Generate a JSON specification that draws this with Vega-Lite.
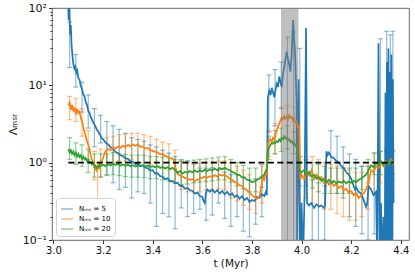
{
"$schema":"https://vega.github.io/schema/vega-lite/v6.json",
"width":357,"height":232,
"autosize":{"type":"none"},
"padding":{"left":52,"top":8,"right":6,"bottom":35},
"config":{"view":{"stroke":"#444","strokeWidth":0.8},"font":"DejaVu Sans","axis":{"domain":false,"grid":false,"tickColor":"#333","labelColor":"#111","titleColor":"#111","labelFont":"DejaVu Sans","titleFont":"DejaVu Sans","titleFontWeight":"normal"},
"legend":{"title":null,"orient":"bottom-left","offset":4,"labelFontSize":7,"symbolType":"stroke","symbolSize":144,"symbolStrokeWidth":1.5,"fillColor":"white","strokeColor":"#d0d0d0","cornerRadius":3,"padding":4,"rowPadding":0,"labelOffset":5}},
"datasets":{
"lines":[
{"s":"5","t":3.058,"v":150},{"s":"5","t":3.061,"v":70},{"s":"5","t":3.064,"v":110},{"s":"5","t":3.067,"v":45},{"s":"5","t":3.07,"v":60},{"s":"5","t":3.073,"v":33},{"s":"5","t":3.076,"v":25},{"s":"5","t":3.08,"v":19},{"s":"5","t":3.084,"v":16.5},{"s":"5","t":3.088,"v":17.5},{"s":"5","t":3.092,"v":14.5},{"s":"5","t":3.096,"v":15.5},{"s":"5","t":3.1,"v":12.5},{"s":"5","t":3.105,"v":11.8},{"s":"5","t":3.11,"v":9.8},{"s":"5","t":3.115,"v":8.9},{"s":"5","t":3.12,"v":7.6},{"s":"5","t":3.125,"v":7.2},{"s":"5","t":3.13,"v":6.1},{"s":"5","t":3.135,"v":5.6},{"s":"5","t":3.14,"v":4.7},{"s":"5","t":3.145,"v":4.4},{"s":"5","t":3.15,"v":3.9},{"s":"5","t":3.155,"v":3.6},{"s":"5","t":3.16,"v":3.3},{"s":"5","t":3.165,"v":3.1},{"s":"5","t":3.17,"v":2.9},{"s":"5","t":3.175,"v":2.65},{"s":"5","t":3.18,"v":2.55},{"s":"5","t":3.185,"v":2.35},{"s":"5","t":3.19,"v":2.25},{"s":"5","t":3.195,"v":2.05},{"s":"5","t":3.2,"v":2.0},{"s":"5","t":3.21,"v":1.82},{"s":"5","t":3.22,"v":1.72},{"s":"5","t":3.23,"v":1.58},{"s":"5","t":3.24,"v":1.5},{"s":"5","t":3.25,"v":1.38},{"s":"5","t":3.26,"v":1.33},{"s":"5","t":3.27,"v":1.24},{"s":"5","t":3.28,"v":1.22},{"s":"5","t":3.29,"v":1.14},{"s":"5","t":3.3,"v":1.12},{"s":"5","t":3.31,"v":1.04},{"s":"5","t":3.32,"v":1.03},{"s":"5","t":3.33,"v":0.96},{"s":"5","t":3.34,"v":0.97},{"s":"5","t":3.35,"v":0.91},{"s":"5","t":3.36,"v":0.92},{"s":"5","t":3.37,"v":0.86},{"s":"5","t":3.38,"v":0.85},{"s":"5","t":3.39,"v":0.79},{"s":"5","t":3.4,"v":0.8},{"s":"5","t":3.41,"v":0.72},{"s":"5","t":3.42,"v":0.73},{"s":"5","t":3.43,"v":0.67},{"s":"5","t":3.44,"v":0.66},{"s":"5","t":3.45,"v":0.61},{"s":"5","t":3.46,"v":0.63},{"s":"5","t":3.47,"v":0.57},{"s":"5","t":3.48,"v":0.58},{"s":"5","t":3.49,"v":0.54},{"s":"5","t":3.5,"v":0.55},{"s":"5","t":3.51,"v":0.5},{"s":"5","t":3.52,"v":0.5},{"s":"5","t":3.53,"v":0.46},{"s":"5","t":3.54,"v":0.47},{"s":"5","t":3.55,"v":0.44},{"s":"5","t":3.56,"v":0.43},{"s":"5","t":3.57,"v":0.4},{"s":"5","t":3.58,"v":0.41},{"s":"5","t":3.59,"v":0.37},{"s":"5","t":3.6,"v":0.36},{"s":"5","t":3.605,"v":0.32},{"s":"5","t":3.61,"v":0.3},{"s":"5","t":3.615,"v":0.41},{"s":"5","t":3.62,"v":0.45},{"s":"5","t":3.63,"v":0.42},{"s":"5","t":3.64,"v":0.45},{"s":"5","t":3.65,"v":0.41},{"s":"5","t":3.66,"v":0.44},{"s":"5","t":3.67,"v":0.4},{"s":"5","t":3.68,"v":0.43},{"s":"5","t":3.69,"v":0.39},{"s":"5","t":3.7,"v":0.42},{"s":"5","t":3.71,"v":0.38},{"s":"5","t":3.72,"v":0.4},{"s":"5","t":3.73,"v":0.36},{"s":"5","t":3.74,"v":0.38},{"s":"5","t":3.75,"v":0.34},{"s":"5","t":3.76,"v":0.37},{"s":"5","t":3.77,"v":0.33},{"s":"5","t":3.78,"v":0.35},{"s":"5","t":3.79,"v":0.31},{"s":"5","t":3.8,"v":0.33},{"s":"5","t":3.81,"v":0.32},{"s":"5","t":3.82,"v":0.36},{"s":"5","t":3.83,"v":0.35},{"s":"5","t":3.84,"v":0.39},{"s":"5","t":3.85,"v":0.37},{"s":"5","t":3.856,"v":0.42},{"s":"5","t":3.86,"v":0.38},{"s":"5","t":3.864,"v":7.0},{"s":"5","t":3.87,"v":8.5},{"s":"5","t":3.875,"v":7.5},{"s":"5","t":3.88,"v":9.3},{"s":"5","t":3.885,"v":8.0},{"s":"5","t":3.89,"v":7.0},{"s":"5","t":3.895,"v":8.8},{"s":"5","t":3.9,"v":10.5},{"s":"5","t":3.905,"v":9.5},{"s":"5","t":3.91,"v":13},{"s":"5","t":3.915,"v":11},{"s":"5","t":3.92,"v":9.5},{"s":"5","t":3.925,"v":14},{"s":"5","t":3.93,"v":17},{"s":"5","t":3.935,"v":22},{"s":"5","t":3.94,"v":27},{"s":"5","t":3.945,"v":22},{"s":"5","t":3.95,"v":19},{"s":"5","t":3.955,"v":15},{"s":"5","t":3.96,"v":25},{"s":"5","t":3.963,"v":45},{"s":"5","t":3.966,"v":70},{"s":"5","t":3.97,"v":40},{"s":"5","t":3.974,"v":25},{"s":"5","t":3.977,"v":12.5},{"s":"5","t":3.98,"v":6},{"s":"5","t":3.982,"v":0.05},{"s":"5","t":3.988,"v":12},{"s":"5","t":3.994,"v":0.05},{"s":"5","t":4.0,"v":0.3},{"s":"5","t":4.006,"v":0.05},{"s":"5","t":4.012,"v":0.4},{"s":"5","t":4.018,"v":55},{"s":"5","t":4.022,"v":0.3},{"s":"5","t":4.03,"v":0.28},{"s":"5","t":4.04,"v":0.3},{"s":"5","t":4.05,"v":0.26},{"s":"5","t":4.06,"v":0.29},{"s":"5","t":4.07,"v":0.27},{"s":"5","t":4.08,"v":0.28},{"s":"5","t":4.09,"v":0.26},{"s":"5","t":4.095,"v":0.28},{"s":"5","t":4.1,"v":1.4},{"s":"5","t":4.105,"v":1.25},{"s":"5","t":4.11,"v":1.35},{"s":"5","t":4.12,"v":1.18},{"s":"5","t":4.13,"v":1.15},{"s":"5","t":4.14,"v":1.05},{"s":"5","t":4.15,"v":1.0},{"s":"5","t":4.16,"v":0.9},{"s":"5","t":4.17,"v":0.85},{"s":"5","t":4.18,"v":0.75},{"s":"5","t":4.19,"v":0.7},{"s":"5","t":4.2,"v":0.62},{"s":"5","t":4.21,"v":0.5},{"s":"5","t":4.215,"v":0.45},{"s":"5","t":4.22,"v":0.48},{"s":"5","t":4.23,"v":0.42},{"s":"5","t":4.24,"v":0.4},{"s":"5","t":4.25,"v":0.33},{"s":"5","t":4.26,"v":0.27},{"s":"5","t":4.265,"v":0.3},{"s":"5","t":4.27,"v":0.5},{"s":"5","t":4.28,"v":0.45},{"s":"5","t":4.29,"v":0.38},{"s":"5","t":4.3,"v":0.42},{"s":"5","t":4.305,"v":0.05},{"s":"5","t":4.31,"v":35},{"s":"5","t":4.315,"v":0.05},{"s":"5","t":4.32,"v":0.3},{"s":"5","t":4.325,"v":0.05},{"s":"5","t":4.33,"v":0.2},{"s":"5","t":4.335,"v":0.05},{"s":"5","t":4.338,"v":8},{"s":"5","t":4.341,"v":0.05},{"s":"5","t":4.344,"v":20},{"s":"5","t":4.347,"v":0.1},{"s":"5","t":4.35,"v":30},{"s":"5","t":4.353,"v":0.05},{"s":"5","t":4.356,"v":15},{"s":"5","t":4.359,"v":0.08},{"s":"5","t":4.362,"v":25},{"s":"5","t":4.365,"v":0.05},{"s":"5","t":4.368,"v":12},{"s":"5","t":4.371,"v":0.3},
{"s":"10","t":3.06,"v":5.5},{"s":"10","t":3.065,"v":6.0},{"s":"10","t":3.07,"v":4.8},{"s":"10","t":3.075,"v":5.6},{"s":"10","t":3.08,"v":4.6},{"s":"10","t":3.085,"v":5.2},{"s":"10","t":3.09,"v":4.2},{"s":"10","t":3.095,"v":5.0},{"s":"10","t":3.1,"v":4.4},{"s":"10","t":3.105,"v":4.6},{"s":"10","t":3.11,"v":3.8},{"s":"10","t":3.115,"v":3.4},{"s":"10","t":3.12,"v":2.9},{"s":"10","t":3.125,"v":2.5},{"s":"10","t":3.13,"v":2.2},{"s":"10","t":3.135,"v":1.9},{"s":"10","t":3.14,"v":1.7},{"s":"10","t":3.145,"v":1.5},{"s":"10","t":3.15,"v":1.25},{"s":"10","t":3.155,"v":1.1},{"s":"10","t":3.16,"v":1.0},{"s":"10","t":3.165,"v":0.92},{"s":"10","t":3.17,"v":0.82},{"s":"10","t":3.175,"v":0.78},{"s":"10","t":3.18,"v":0.9},{"s":"10","t":3.185,"v":0.85},{"s":"10","t":3.19,"v":0.95},{"s":"10","t":3.195,"v":1.05},{"s":"10","t":3.2,"v":1.15},{"s":"10","t":3.205,"v":1.3},{"s":"10","t":3.21,"v":1.4},{"s":"10","t":3.22,"v":1.5},{"s":"10","t":3.23,"v":1.45},{"s":"10","t":3.24,"v":1.58},{"s":"10","t":3.25,"v":1.52},{"s":"10","t":3.26,"v":1.62},{"s":"10","t":3.27,"v":1.55},{"s":"10","t":3.28,"v":1.65},{"s":"10","t":3.29,"v":1.6},{"s":"10","t":3.3,"v":1.7},{"s":"10","t":3.31,"v":1.62},{"s":"10","t":3.32,"v":1.72},{"s":"10","t":3.33,"v":1.65},{"s":"10","t":3.34,"v":1.72},{"s":"10","t":3.35,"v":1.6},{"s":"10","t":3.36,"v":1.62},{"s":"10","t":3.37,"v":1.52},{"s":"10","t":3.38,"v":1.55},{"s":"10","t":3.39,"v":1.45},{"s":"10","t":3.4,"v":1.42},{"s":"10","t":3.41,"v":1.38},{"s":"10","t":3.42,"v":1.35},{"s":"10","t":3.43,"v":1.28},{"s":"10","t":3.44,"v":1.3},{"s":"10","t":3.45,"v":1.22},{"s":"10","t":3.46,"v":1.2},{"s":"10","t":3.47,"v":1.15},{"s":"10","t":3.48,"v":1.12},{"s":"10","t":3.485,"v":1.08},{"s":"10","t":3.49,"v":0.9},{"s":"10","t":3.5,"v":0.72},{"s":"10","t":3.51,"v":0.68},{"s":"10","t":3.52,"v":0.66},{"s":"10","t":3.53,"v":0.63},{"s":"10","t":3.54,"v":0.62},{"s":"10","t":3.55,"v":0.6},{"s":"10","t":3.56,"v":0.61},{"s":"10","t":3.57,"v":0.58},{"s":"10","t":3.58,"v":0.6},{"s":"10","t":3.59,"v":0.62},{"s":"10","t":3.6,"v":0.64},{"s":"10","t":3.61,"v":0.66},{"s":"10","t":3.62,"v":0.64},{"s":"10","t":3.63,"v":0.67},{"s":"10","t":3.64,"v":0.65},{"s":"10","t":3.65,"v":0.69},{"s":"10","t":3.66,"v":0.66},{"s":"10","t":3.67,"v":0.7},{"s":"10","t":3.68,"v":0.68},{"s":"10","t":3.69,"v":0.7},{"s":"10","t":3.7,"v":0.66},{"s":"10","t":3.71,"v":0.62},{"s":"10","t":3.72,"v":0.6},{"s":"10","t":3.73,"v":0.56},{"s":"10","t":3.74,"v":0.55},{"s":"10","t":3.75,"v":0.51},{"s":"10","t":3.76,"v":0.5},{"s":"10","t":3.77,"v":0.46},{"s":"10","t":3.78,"v":0.44},{"s":"10","t":3.79,"v":0.41},{"s":"10","t":3.8,"v":0.38},{"s":"10","t":3.81,"v":0.36},{"s":"10","t":3.82,"v":0.34},{"s":"10","t":3.83,"v":0.36},{"s":"10","t":3.84,"v":0.55},{"s":"10","t":3.845,"v":0.65},{"s":"10","t":3.85,"v":0.6},{"s":"10","t":3.855,"v":0.72},{"s":"10","t":3.86,"v":0.7},{"s":"10","t":3.865,"v":1.8},{"s":"10","t":3.87,"v":1.9},{"s":"10","t":3.875,"v":2.0},{"s":"10","t":3.88,"v":1.85},{"s":"10","t":3.885,"v":2.1},{"s":"10","t":3.89,"v":2.0},{"s":"10","t":3.895,"v":2.3},{"s":"10","t":3.9,"v":2.6},{"s":"10","t":3.905,"v":2.9},{"s":"10","t":3.91,"v":3.2},{"s":"10","t":3.915,"v":3.5},{"s":"10","t":3.92,"v":3.8},{"s":"10","t":3.925,"v":3.6},{"s":"10","t":3.93,"v":4.0},{"s":"10","t":3.935,"v":3.7},{"s":"10","t":3.94,"v":3.9},{"s":"10","t":3.945,"v":3.6},{"s":"10","t":3.95,"v":4.1},{"s":"10","t":3.955,"v":3.8},{"s":"10","t":3.96,"v":3.9},{"s":"10","t":3.965,"v":3.5},{"s":"10","t":3.97,"v":3.7},{"s":"10","t":3.975,"v":3.3},{"s":"10","t":3.98,"v":3.4},{"s":"10","t":3.985,"v":2.9},{"s":"10","t":3.99,"v":3.0},{"s":"10","t":3.995,"v":0.6},{"s":"10","t":4.0,"v":0.7},{"s":"10","t":4.01,"v":0.62},{"s":"10","t":4.02,"v":0.75},{"s":"10","t":4.03,"v":0.68},{"s":"10","t":4.04,"v":0.8},{"s":"10","t":4.05,"v":0.62},{"s":"10","t":4.06,"v":0.7},{"s":"10","t":4.07,"v":0.6},{"s":"10","t":4.08,"v":0.65},{"s":"10","t":4.09,"v":0.55},{"s":"10","t":4.1,"v":0.6},{"s":"10","t":4.11,"v":0.52},{"s":"10","t":4.12,"v":0.56},{"s":"10","t":4.13,"v":0.5},{"s":"10","t":4.14,"v":0.53},{"s":"10","t":4.15,"v":0.47},{"s":"10","t":4.16,"v":0.5},{"s":"10","t":4.17,"v":0.44},{"s":"10","t":4.18,"v":0.46},{"s":"10","t":4.19,"v":0.41},{"s":"10","t":4.2,"v":0.43},{"s":"10","t":4.21,"v":0.38},{"s":"10","t":4.22,"v":0.4},{"s":"10","t":4.23,"v":0.35},{"s":"10","t":4.24,"v":0.38},{"s":"10","t":4.25,"v":0.4},{"s":"10","t":4.26,"v":0.45},{"s":"10","t":4.27,"v":0.55},{"s":"10","t":4.28,"v":0.8},{"s":"10","t":4.29,"v":0.75},{"s":"10","t":4.3,"v":0.9},{"s":"10","t":4.31,"v":0.85},{"s":"10","t":4.32,"v":1.0},{"s":"10","t":4.33,"v":0.9},{"s":"10","t":4.34,"v":1.05},{"s":"10","t":4.35,"v":0.95},{"s":"10","t":4.36,"v":1.1},{"s":"10","t":4.37,"v":0.95},
{"s":"20","t":3.06,"v":1.5},{"s":"20","t":3.065,"v":1.35},{"s":"20","t":3.07,"v":1.45},{"s":"20","t":3.075,"v":1.3},{"s":"20","t":3.08,"v":1.4},{"s":"20","t":3.085,"v":1.25},{"s":"20","t":3.09,"v":1.35},{"s":"20","t":3.095,"v":1.2},{"s":"20","t":3.1,"v":1.3},{"s":"20","t":3.105,"v":1.18},{"s":"20","t":3.11,"v":1.25},{"s":"20","t":3.115,"v":1.12},{"s":"20","t":3.12,"v":1.2},{"s":"20","t":3.125,"v":1.1},{"s":"20","t":3.13,"v":1.15},{"s":"20","t":3.135,"v":1.05},{"s":"20","t":3.14,"v":1.1},{"s":"20","t":3.145,"v":1.0},{"s":"20","t":3.15,"v":1.02},{"s":"20","t":3.155,"v":0.95},{"s":"20","t":3.16,"v":0.98},{"s":"20","t":3.165,"v":0.88},{"s":"20","t":3.17,"v":0.92},{"s":"20","t":3.175,"v":0.85},{"s":"20","t":3.18,"v":0.88},{"s":"20","t":3.185,"v":0.95},{"s":"20","t":3.19,"v":0.9},{"s":"20","t":3.2,"v":0.94},{"s":"20","t":3.21,"v":0.9},{"s":"20","t":3.22,"v":0.95},{"s":"20","t":3.23,"v":0.92},{"s":"20","t":3.24,"v":0.97},{"s":"20","t":3.25,"v":0.93},{"s":"20","t":3.26,"v":0.96},{"s":"20","t":3.27,"v":0.92},{"s":"20","t":3.28,"v":0.95},{"s":"20","t":3.29,"v":0.91},{"s":"20","t":3.3,"v":0.94},{"s":"20","t":3.31,"v":0.9},{"s":"20","t":3.32,"v":0.93},{"s":"20","t":3.33,"v":0.89},{"s":"20","t":3.34,"v":0.92},{"s":"20","t":3.35,"v":0.9},{"s":"20","t":3.36,"v":0.93},{"s":"20","t":3.37,"v":0.89},{"s":"20","t":3.38,"v":0.92},{"s":"20","t":3.39,"v":0.88},{"s":"20","t":3.4,"v":0.9},{"s":"20","t":3.41,"v":0.87},{"s":"20","t":3.42,"v":0.9},{"s":"20","t":3.43,"v":0.86},{"s":"20","t":3.44,"v":0.88},{"s":"20","t":3.45,"v":0.84},{"s":"20","t":3.46,"v":0.87},{"s":"20","t":3.47,"v":0.83},{"s":"20","t":3.48,"v":0.86},{"s":"20","t":3.49,"v":0.8},{"s":"20","t":3.5,"v":0.74},{"s":"20","t":3.51,"v":0.78},{"s":"20","t":3.52,"v":0.72},{"s":"20","t":3.53,"v":0.76},{"s":"20","t":3.54,"v":0.74},{"s":"20","t":3.55,"v":0.78},{"s":"20","t":3.56,"v":0.75},{"s":"20","t":3.57,"v":0.79},{"s":"20","t":3.58,"v":0.76},{"s":"20","t":3.59,"v":0.8},{"s":"20","t":3.6,"v":0.77},{"s":"20","t":3.61,"v":0.81},{"s":"20","t":3.62,"v":0.78},{"s":"20","t":3.63,"v":0.82},{"s":"20","t":3.64,"v":0.79},{"s":"20","t":3.65,"v":0.84},{"s":"20","t":3.66,"v":0.8},{"s":"20","t":3.67,"v":0.85},{"s":"20","t":3.68,"v":0.82},{"s":"20","t":3.69,"v":0.86},{"s":"20","t":3.7,"v":0.82},{"s":"20","t":3.71,"v":0.8},{"s":"20","t":3.72,"v":0.76},{"s":"20","t":3.73,"v":0.74},{"s":"20","t":3.74,"v":0.7},{"s":"20","t":3.75,"v":0.69},{"s":"20","t":3.76,"v":0.65},{"s":"20","t":3.77,"v":0.64},{"s":"20","t":3.78,"v":0.6},{"s":"20","t":3.79,"v":0.59},{"s":"20","t":3.8,"v":0.56},{"s":"20","t":3.81,"v":0.57},{"s":"20","t":3.82,"v":0.6},{"s":"20","t":3.83,"v":0.62},{"s":"20","t":3.84,"v":0.66},{"s":"20","t":3.85,"v":0.7},{"s":"20","t":3.86,"v":0.85},{"s":"20","t":3.865,"v":1.5},{"s":"20","t":3.87,"v":1.6},{"s":"20","t":3.875,"v":1.7},{"s":"20","t":3.88,"v":1.8},{"s":"20","t":3.885,"v":1.75},{"s":"20","t":3.89,"v":1.85},{"s":"20","t":3.895,"v":1.8},{"s":"20","t":3.9,"v":1.9},{"s":"20","t":3.905,"v":1.85},{"s":"20","t":3.91,"v":2.0},{"s":"20","t":3.915,"v":1.9},{"s":"20","t":3.92,"v":2.1},{"s":"20","t":3.925,"v":2.0},{"s":"20","t":3.93,"v":2.2},{"s":"20","t":3.935,"v":2.05},{"s":"20","t":3.94,"v":2.1},{"s":"20","t":3.945,"v":1.95},{"s":"20","t":3.95,"v":2.0},{"s":"20","t":3.955,"v":1.85},{"s":"20","t":3.96,"v":1.9},{"s":"20","t":3.965,"v":1.75},{"s":"20","t":3.97,"v":1.8},{"s":"20","t":3.975,"v":1.65},{"s":"20","t":3.98,"v":1.7},{"s":"20","t":3.985,"v":1.5},{"s":"20","t":3.99,"v":0.8},{"s":"20","t":4.0,"v":0.75},{"s":"20","t":4.01,"v":0.8},{"s":"20","t":4.02,"v":0.7},{"s":"20","t":4.03,"v":0.76},{"s":"20","t":4.04,"v":0.66},{"s":"20","t":4.05,"v":0.7},{"s":"20","t":4.06,"v":0.62},{"s":"20","t":4.07,"v":0.65},{"s":"20","t":4.08,"v":0.58},{"s":"20","t":4.09,"v":0.62},{"s":"20","t":4.1,"v":0.56},{"s":"20","t":4.11,"v":0.6},{"s":"20","t":4.12,"v":0.55},{"s":"20","t":4.13,"v":0.58},{"s":"20","t":4.14,"v":0.54},{"s":"20","t":4.15,"v":0.57},{"s":"20","t":4.16,"v":0.55},{"s":"20","t":4.17,"v":0.58},{"s":"20","t":4.18,"v":0.54},{"s":"20","t":4.19,"v":0.57},{"s":"20","t":4.2,"v":0.55},{"s":"20","t":4.21,"v":0.58},{"s":"20","t":4.22,"v":0.56},{"s":"20","t":4.23,"v":0.6},{"s":"20","t":4.24,"v":0.62},{"s":"20","t":4.25,"v":0.66},{"s":"20","t":4.26,"v":0.7},{"s":"20","t":4.27,"v":0.8},{"s":"20","t":4.28,"v":0.92},{"s":"20","t":4.29,"v":0.88},{"s":"20","t":4.3,"v":1.0},{"s":"20","t":4.31,"v":0.92},{"s":"20","t":4.32,"v":1.05},{"s":"20","t":4.33,"v":0.95},{"s":"20","t":4.34,"v":1.02},{"s":"20","t":4.35,"v":0.96},{"s":"20","t":4.36,"v":1.05},{"s":"20","t":4.37,"v":1.0}
],
"bars":[
{"s":"5","t":3.065,"lo":17,"hi":66},{"s":"5","t":3.09,"lo":9.5,"hi":25},{"s":"5","t":3.115,"lo":4.5,"hi":11},{"s":"5","t":3.14,"lo":2.8,"hi":7.5},{"s":"5","t":3.165,"lo":1.6,"hi":5.0},{"s":"5","t":3.19,"lo":1.8,"hi":4.1},{"s":"5","t":3.215,"lo":0.7,"hi":3.4},{"s":"5","t":3.24,"lo":0.55,"hi":3.0},{"s":"5","t":3.265,"lo":0.45,"hi":2.7},{"s":"5","t":3.29,"lo":0.48,"hi":2.4},{"s":"5","t":3.315,"lo":0.35,"hi":2.1},{"s":"5","t":3.34,"lo":0.42,"hi":2.0},{"s":"5","t":3.365,"lo":0.4,"hi":1.9},{"s":"5","t":3.39,"lo":0.3,"hi":1.7},{"s":"5","t":3.415,"lo":0.15,"hi":1.6},{"s":"5","t":3.44,"lo":0.22,"hi":1.45},{"s":"5","t":3.465,"lo":0.2,"hi":1.33},{"s":"5","t":3.49,"lo":0.14,"hi":1.2},{"s":"5","t":3.515,"lo":0.26,"hi":1.1},{"s":"5","t":3.54,"lo":0.2,"hi":1.05},{"s":"5","t":3.565,"lo":0.22,"hi":1.0},{"s":"5","t":3.59,"lo":0.25,"hi":0.85},{"s":"5","t":3.615,"lo":0.18,"hi":0.85},{"s":"5","t":3.64,"lo":0.21,"hi":0.86},{"s":"5","t":3.665,"lo":0.3,"hi":0.8},{"s":"5","t":3.69,"lo":0.19,"hi":0.75},{"s":"5","t":3.715,"lo":0.15,"hi":0.7},{"s":"5","t":3.74,"lo":0.2,"hi":0.7},{"s":"5","t":3.765,"lo":0.13,"hi":0.65},{"s":"5","t":3.79,"lo":0.11,"hi":0.6},{"s":"5","t":3.815,"lo":0.16,"hi":0.62},{"s":"5","t":3.84,"lo":0.2,"hi":0.65},{"s":"5","t":3.868,"lo":2.5,"hi":13.6},{"s":"5","t":3.893,"lo":3,"hi":16},{"s":"5","t":3.918,"lo":5,"hi":20},{"s":"5","t":3.943,"lo":0.05,"hi":42},{"s":"5","t":3.968,"lo":0.05,"hi":49},{"s":"5","t":3.993,"lo":0.05,"hi":30},{"s":"5","t":4.043,"lo":0.1,"hi":0.6},{"s":"5","t":4.068,"lo":0.08,"hi":0.55},{"s":"5","t":4.093,"lo":0.1,"hi":0.5},{"s":"5","t":4.118,"lo":0.55,"hi":2.6},{"s":"5","t":4.143,"lo":0.4,"hi":2.2},{"s":"5","t":4.168,"lo":0.35,"hi":1.6},{"s":"5","t":4.193,"lo":0.2,"hi":1.3},{"s":"5","t":4.218,"lo":0.15,"hi":1.1},{"s":"5","t":4.243,"lo":0.12,"hi":0.9},{"s":"5","t":4.268,"lo":0.1,"hi":0.9},{"s":"5","t":4.293,"lo":0.12,"hi":1.0},{"s":"5","t":4.318,"lo":0.05,"hi":40},{"s":"5","t":4.343,"lo":0.05,"hi":50},{"s":"5","t":4.358,"lo":0.05,"hi":45},{"s":"5","t":4.368,"lo":0.05,"hi":50},
{"s":"10","t":3.065,"lo":3.6,"hi":7.2},{"s":"10","t":3.09,"lo":3.4,"hi":6.8},{"s":"10","t":3.115,"lo":2.2,"hi":5.0},{"s":"10","t":3.14,"lo":1.1,"hi":2.6},{"s":"10","t":3.165,"lo":0.6,"hi":1.4},{"s":"10","t":3.178,"lo":0.3,"hi":1.0},{"s":"10","t":3.19,"lo":0.65,"hi":1.5},{"s":"10","t":3.215,"lo":0.95,"hi":2.1},{"s":"10","t":3.24,"lo":1.0,"hi":2.2},{"s":"10","t":3.265,"lo":1.05,"hi":2.3},{"s":"10","t":3.29,"lo":1.05,"hi":2.35},{"s":"10","t":3.315,"lo":1.1,"hi":2.4},{"s":"10","t":3.34,"lo":1.0,"hi":2.4},{"s":"10","t":3.365,"lo":1.0,"hi":2.3},{"s":"10","t":3.39,"lo":0.95,"hi":2.2},{"s":"10","t":3.415,"lo":0.9,"hi":2.0},{"s":"10","t":3.44,"lo":0.85,"hi":1.85},{"s":"10","t":3.465,"lo":0.8,"hi":1.75},{"s":"10","t":3.49,"lo":0.55,"hi":1.45},{"s":"10","t":3.515,"lo":0.45,"hi":1.05},{"s":"10","t":3.54,"lo":0.42,"hi":1.0},{"s":"10","t":3.565,"lo":0.4,"hi":0.95},{"s":"10","t":3.59,"lo":0.42,"hi":0.98},{"s":"10","t":3.615,"lo":0.44,"hi":1.0},{"s":"10","t":3.64,"lo":0.45,"hi":1.02},{"s":"10","t":3.665,"lo":0.46,"hi":1.05},{"s":"10","t":3.69,"lo":0.45,"hi":1.05},{"s":"10","t":3.715,"lo":0.35,"hi":1.0},{"s":"10","t":3.74,"lo":0.32,"hi":0.9},{"s":"10","t":3.765,"lo":0.28,"hi":0.8},{"s":"10","t":3.79,"lo":0.25,"hi":0.7},{"s":"10","t":3.815,"lo":0.22,"hi":0.6},{"s":"10","t":3.84,"lo":0.3,"hi":0.9},{"s":"10","t":3.868,"lo":1.2,"hi":2.6},{"s":"10","t":3.893,"lo":1.3,"hi":3.2},{"s":"10","t":3.918,"lo":2.0,"hi":5.2},{"s":"10","t":3.943,"lo":2.1,"hi":5.5},{"s":"10","t":3.968,"lo":1.9,"hi":5.2},{"s":"10","t":3.993,"lo":0.3,"hi":1.2},{"s":"10","t":4.018,"lo":0.35,"hi":1.2},{"s":"10","t":4.043,"lo":0.3,"hi":1.2},{"s":"10","t":4.068,"lo":0.28,"hi":1.1},{"s":"10","t":4.093,"lo":0.25,"hi":1.0},{"s":"10","t":4.118,"lo":0.25,"hi":0.95},{"s":"10","t":4.143,"lo":0.22,"hi":0.9},{"s":"10","t":4.168,"lo":0.2,"hi":0.85},{"s":"10","t":4.193,"lo":0.18,"hi":0.8},{"s":"10","t":4.218,"lo":0.18,"hi":0.75},{"s":"10","t":4.243,"lo":0.2,"hi":0.75},{"s":"10","t":4.268,"lo":0.25,"hi":0.9},{"s":"10","t":4.293,"lo":0.4,"hi":1.3},{"s":"10","t":4.318,"lo":0.55,"hi":1.4},{"s":"10","t":4.343,"lo":0.6,"hi":1.45},{"s":"10","t":4.368,"lo":0.6,"hi":1.45},
{"s":"20","t":3.065,"lo":1.1,"hi":2.1},{"s":"20","t":3.09,"lo":0.95,"hi":1.8},{"s":"20","t":3.115,"lo":0.9,"hi":1.7},{"s":"20","t":3.14,"lo":0.75,"hi":1.5},{"s":"20","t":3.165,"lo":0.65,"hi":1.3},{"s":"20","t":3.19,"lo":0.65,"hi":1.3},{"s":"20","t":3.215,"lo":0.68,"hi":1.3},{"s":"20","t":3.24,"lo":0.7,"hi":1.35},{"s":"20","t":3.265,"lo":0.68,"hi":1.3},{"s":"20","t":3.29,"lo":0.66,"hi":1.28},{"s":"20","t":3.315,"lo":0.65,"hi":1.25},{"s":"20","t":3.34,"lo":0.65,"hi":1.25},{"s":"20","t":3.365,"lo":0.64,"hi":1.25},{"s":"20","t":3.39,"lo":0.62,"hi":1.2},{"s":"20","t":3.415,"lo":0.62,"hi":1.2},{"s":"20","t":3.44,"lo":0.6,"hi":1.18},{"s":"20","t":3.465,"lo":0.58,"hi":1.15},{"s":"20","t":3.49,"lo":0.55,"hi":1.1},{"s":"20","t":3.515,"lo":0.52,"hi":1.05},{"s":"20","t":3.54,"lo":0.53,"hi":1.05},{"s":"20","t":3.565,"lo":0.55,"hi":1.08},{"s":"20","t":3.59,"lo":0.56,"hi":1.1},{"s":"20","t":3.615,"lo":0.57,"hi":1.12},{"s":"20","t":3.64,"lo":0.58,"hi":1.15},{"s":"20","t":3.665,"lo":0.6,"hi":1.18},{"s":"20","t":3.69,"lo":0.6,"hi":1.2},{"s":"20","t":3.715,"lo":0.56,"hi":1.1},{"s":"20","t":3.74,"lo":0.5,"hi":1.0},{"s":"20","t":3.765,"lo":0.46,"hi":0.92},{"s":"20","t":3.79,"lo":0.42,"hi":0.85},{"s":"20","t":3.815,"lo":0.42,"hi":0.85},{"s":"20","t":3.84,"lo":0.48,"hi":0.95},{"s":"20","t":3.868,"lo":1.1,"hi":2.2},{"s":"20","t":3.893,"lo":1.3,"hi":2.6},{"s":"20","t":3.918,"lo":1.4,"hi":2.8},{"s":"20","t":3.943,"lo":1.5,"hi":3.0},{"s":"20","t":3.968,"lo":1.3,"hi":2.5},{"s":"20","t":3.993,"lo":0.5,"hi":1.2},{"s":"20","t":4.018,"lo":0.5,"hi":1.1},{"s":"20","t":4.043,"lo":0.47,"hi":1.0},{"s":"20","t":4.068,"lo":0.42,"hi":0.95},{"s":"20","t":4.093,"lo":0.4,"hi":0.9},{"s":"20","t":4.118,"lo":0.4,"hi":0.85},{"s":"20","t":4.143,"lo":0.4,"hi":0.85},{"s":"20","t":4.168,"lo":0.4,"hi":0.85},{"s":"20","t":4.193,"lo":0.4,"hi":0.85},{"s":"20","t":4.218,"lo":0.4,"hi":0.85},{"s":"20","t":4.243,"lo":0.45,"hi":0.9},{"s":"20","t":4.268,"lo":0.55,"hi":1.1},{"s":"20","t":4.293,"lo":0.7,"hi":1.35},{"s":"20","t":4.318,"lo":0.7,"hi":1.4},{"s":"20","t":4.343,"lo":0.72,"hi":1.4},{"s":"20","t":4.368,"lo":0.72,"hi":1.4}
],
"ref":[{"t":3.06,"t2":4.37,"v":1}],
"band":[{"t":3.917,"t2":3.987}]
},
"encoding":{
"x":{"field":"t","type":"quantitative","scale":{"domain":[2.994,4.433],"nice":false,"zero":false},"axis":{"values":[3.0,3.2,3.4,3.6,3.8,4.0,4.2,4.4],"format":".1f","title":"t (Myr)","labelFontSize":10,"titleFontSize":10.5,"tickSize":3.5,"labelPadding":2,"titlePadding":3}}
},
"layer":[
{"data":{"name":"bars"},"mark":{"type":"rule","strokeWidth":1.2,"opacity":0.5,"clip":true},
 "encoding":{"y":{"field":"lo","type":"quantitative","scale":{"type":"log","domain":[0.1,100],"nice":false},
   "axis":{"title":"Λₘₛᵣ","titleFontSize":11,"labelFontSize":11,"titlePadding":4,
    "values":[0.1,0.2,0.3,0.4,0.5,0.6,0.7,0.8,0.9,1,2,3,4,5,6,7,8,9,10,20,30,40,50,60,70,80,90,100],
    "labelExpr":"datum.value==0.1?'10⁻¹':datum.value==1?'10⁰':datum.value==10?'10¹':datum.value==100?'10²':''",
    "tickSize":{"condition":{"test":"datum.value==0.1||datum.value==1||datum.value==10||datum.value==100","value":3.5},"value":2},
    "labelPadding":2}},"y2":{"field":"hi"},
  "color":{"field":"s","type":"nominal","scale":{"domain":["5","10","20"],"range":["#1f77b4","#ff7f0e","#2ca02c"]},"legend":{"labelExpr":"'Nₘₛ = ' + datum.label"}}}},
{"data":{"name":"bars"},"mark":{"type":"tick","orient":"horizontal","size":5,"thickness":1.2,"opacity":0.5,"clip":true},
 "encoding":{"y":{"field":"lo","type":"quantitative"},"color":{"field":"s","type":"nominal","legend":{"labelExpr":"'Nₘₛ = ' + datum.label"}}}},
{"data":{"name":"bars"},"mark":{"type":"tick","orient":"horizontal","size":5,"thickness":1.2,"opacity":0.5,"clip":true},
 "encoding":{"y":{"field":"hi","type":"quantitative"},"color":{"field":"s","type":"nominal","legend":{"labelExpr":"'Nₘₛ = ' + datum.label"}}}},
{"data":{"name":"lines"},"mark":{"type":"line","strokeWidth":1.7,"clip":true},
 "encoding":{
  "y":{"field":"v","type":"quantitative"},
  "color":{"field":"s","type":"nominal","legend":{"labelExpr":"'Nₘₛ = ' + datum.label"}},
  "order":{"field":"t","type":"quantitative"}}},
{"data":{"name":"band"},"mark":{"type":"rect","color":"#808080","opacity":0.5},
 "encoding":{"x":{"field":"t","type":"quantitative"},"x2":{"field":"t2"}}},
{"data":{"name":"ref"},"mark":{"type":"rule","color":"black","strokeWidth":1.8,"strokeDash":[6,3.5]},
 "encoding":{"x":{"field":"t","type":"quantitative"},"x2":{"field":"t2"},"y":{"field":"v","type":"quantitative"}}}
]
}
